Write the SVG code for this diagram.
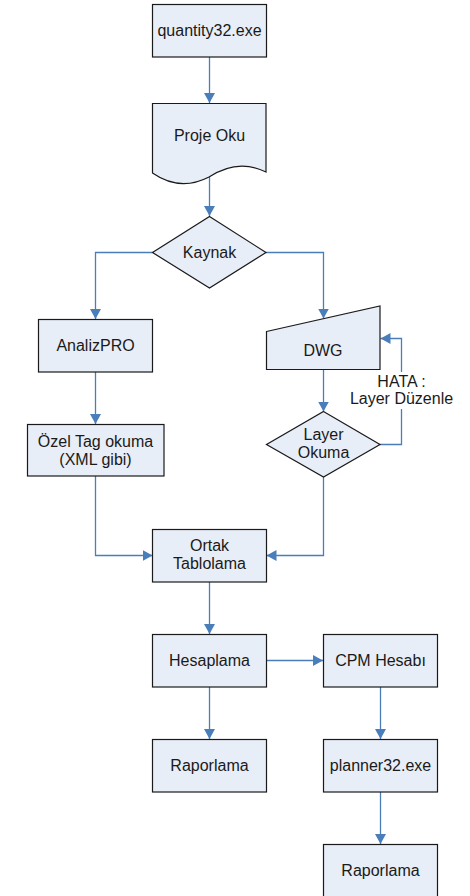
<svg xmlns="http://www.w3.org/2000/svg" width="470" height="896" viewBox="0 0 470 896">
<style>
.n{fill:#E8EEF7;stroke:#1a1a1a;stroke-width:1.2}
.t{font-family:"Liberation Sans",Arial,sans-serif;font-size:16px;fill:#1a1a1a;text-anchor:middle}
.c{fill:none;stroke:#4A7EBB;stroke-width:1.3}
</style>
<defs>
<marker id="ah" markerUnits="userSpaceOnUse" markerWidth="11" markerHeight="11" refX="10" refY="5.5" orient="auto">
<path d="M0,0 L10,5.5 L0,11 Z" fill="#4A7EBB"/>
</marker>
</defs>
<rect width="470" height="896" fill="#fff"/>
<g id="connectors">
<path class="c" d="M209.5,57 V103" marker-end="url(#ah)"/>
<path class="c" d="M209.5,177 V216" marker-end="url(#ah)"/>
<path class="c" d="M152.5,252.5 H95.5 V319" marker-end="url(#ah)"/>
<path class="c" d="M266,252.5 H323.5 V318.5" marker-end="url(#ah)"/>
<path class="c" d="M95.5,372 V424" marker-end="url(#ah)"/>
<path class="c" d="M323.5,369.5 V411.5" marker-end="url(#ah)"/>
<path class="c" d="M380,444.5 H401.5 V338.5 H380.5" marker-end="url(#ah)"/>
<path class="c" d="M95.5,476 V555.5 H152.5" marker-end="url(#ah)"/>
<path class="c" d="M323.5,477 V555.5 H266.5" marker-end="url(#ah)"/>
<path class="c" d="M209.5,582 V634" marker-end="url(#ah)"/>
<path class="c" d="M266.5,660.5 H323" marker-end="url(#ah)"/>
<path class="c" d="M209.5,687 V739" marker-end="url(#ah)"/>
<path class="c" d="M380.5,687 V739" marker-end="url(#ah)"/>
<path class="c" d="M380.5,792 V844" marker-end="url(#ah)"/>
<g id="label-hata">
<rect x="349" y="372" width="104" height="37" fill="#fff"/>
<text class="t" x="401.5" y="386.5">HATA :</text>
<text class="t" x="401.5" y="404">Layer Düzenle</text>
</g>
</g>
<g id="quantity32">
<rect class="n" x="152.5" y="4.5" width="114" height="52.5"/>
<text class="t" x="209.5" y="36">quantity32.exe</text>
</g>
<g id="proje-oku">
<path class="n" d="M152.5,103.5 H266 V172 Q238,158 209,177 Q180,192 152.5,173 Z"/>
<text class="t" x="209.5" y="140.5">Proje Oku</text>
</g>
<g id="kaynak">
<path class="n" d="M209.5,216.5 L266,252.5 L209.5,288 L152.5,252.5 Z"/>
<text class="t" x="209.5" y="257.5">Kaynak</text>
</g>
<g id="analizpro">
<rect class="n" x="38.5" y="319.5" width="114" height="52.5"/>
<text class="t" x="95.5" y="350.5">AnalizPRO</text>
</g>
<g id="ozel-tag">
<rect class="n" x="27.5" y="424.5" width="136.5" height="51.5"/>
<text class="t" x="95.5" y="446.5">Özel Tag okuma</text>
<text class="t" x="95.5" y="464.5">(XML gibi)</text>
</g>
<g id="dwg">
<path class="n" d="M266.5,331.5 L380,306 V369.5 H266.5 Z"/>
<text class="t" x="323" y="356">DWG</text>
</g>
<g id="layer-okuma">
<path class="n" d="M323.5,411.5 L380,444.5 L323.5,477 L266.5,444.5 Z"/>
<text class="t" x="323.5" y="440">Layer</text>
<text class="t" x="323.5" y="457.5">Okuma</text>
</g>
<g id="ortak">
<rect class="n" x="152.5" y="529.5" width="114" height="52.5"/>
<text class="t" x="209.5" y="550.5">Ortak</text>
<text class="t" x="209.5" y="569">Tablolama</text>
</g>
<g id="hesaplama">
<rect class="n" x="152.5" y="634.5" width="114" height="52.5"/>
<text class="t" x="209.5" y="665.5">Hesaplama</text>
</g>
<g id="cpm">
<rect class="n" x="323.5" y="634.5" width="114" height="52.5"/>
<text class="t" x="380.5" y="665.5">CPM Hesabı</text>
</g>
<g id="raporlama1">
<rect class="n" x="152.5" y="739.5" width="114" height="52.5"/>
<text class="t" x="209.5" y="770.5">Raporlama</text>
</g>
<g id="planner32">
<rect class="n" x="323.5" y="739.5" width="114" height="52.5"/>
<text class="t" x="380.5" y="770.5">planner32.exe</text>
</g>
<g id="raporlama2">
<rect class="n" x="323.5" y="844.5" width="114" height="52.5"/>
<text class="t" x="380.5" y="875.5">Raporlama</text>
</g>
</svg>
